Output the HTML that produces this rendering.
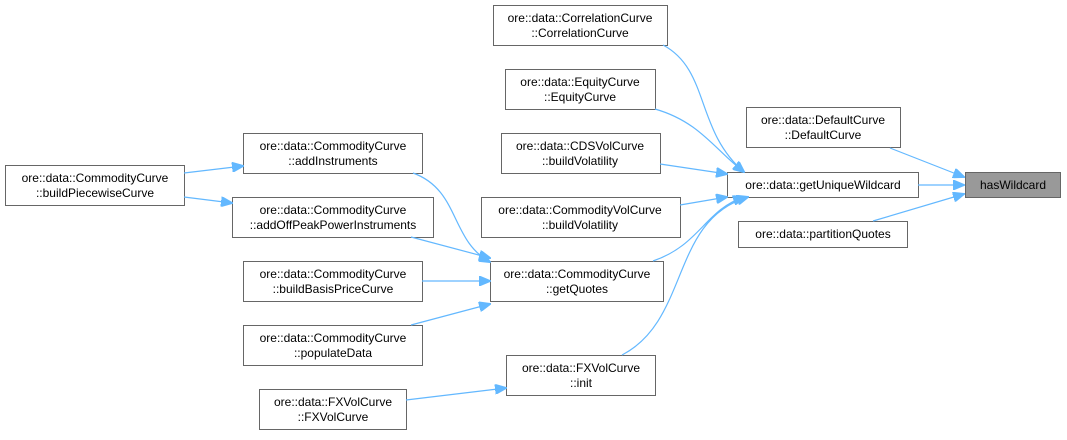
<!DOCTYPE html>
<html><head><meta charset="utf-8"><style>
body{margin:0;background:#fff}
text{font-family:"Liberation Sans",Arial,sans-serif;font-size:12px;fill:#000;text-anchor:middle}
rect{fill:#fff;stroke:#666;stroke-width:1}
path{fill:none;stroke:#63b8ff;stroke-width:1.2}
</style></head><body>
<svg width="1067" height="435" xmlns="http://www.w3.org/2000/svg">
<defs><marker id="a" markerWidth="12" markerHeight="10" refX="11" refY="5" orient="auto" markerUnits="userSpaceOnUse"><path d="M0,0 L12,5 L0,10 Z" style="fill:#63b8ff;stroke:#63b8ff"/></marker></defs>
<g>
<rect x="493.5" y="5.5" width="174" height="40"/><text x="580" y="22">ore::data::CorrelationCurve</text><text x="580" y="37">::CorrelationCurve</text>
<rect x="505.5" y="69.5" width="150" height="40"/><text x="580" y="86">ore::data::EquityCurve</text><text x="580" y="101">::EquityCurve</text>
<rect x="501.5" y="133.5" width="159" height="40"/><text x="580" y="150">ore::data::CDSVolCurve</text><text x="580" y="165">::buildVolatility</text>
<rect x="481.5" y="197.5" width="199" height="40"/><text x="580" y="214">ore::data::CommodityVolCurve</text><text x="580" y="229">::buildVolatility</text>
<rect x="490.5" y="261.5" width="173" height="40"/><text x="577" y="278">ore::data::CommodityCurve</text><text x="577" y="293">::getQuotes</text>
<rect x="506.5" y="355.5" width="149" height="40"/><text x="581" y="372">ore::data::FXVolCurve</text><text x="581" y="387">::init</text>
<rect x="746.5" y="107.5" width="154" height="40"/><text x="823" y="124">ore::data::DefaultCurve</text><text x="823" y="139">::DefaultCurve</text>
<rect x="727.5" y="172.5" width="191" height="25"/><text x="823" y="189">ore::data::getUniqueWildcard</text>
<rect x="738.5" y="221.5" width="169" height="26"/><text x="823" y="238">ore::data::partitionQuotes</text>
<rect x="965.5" y="172.5" width="95" height="25" style="fill:#999"/><text x="1013" y="189">hasWildcard</text>
<rect x="243.5" y="133.5" width="179" height="40"/><text x="333" y="150">ore::data::CommodityCurve</text><text x="333" y="165">::addInstruments</text>
<rect x="232.5" y="197.5" width="201" height="40"/><text x="333" y="214">ore::data::CommodityCurve</text><text x="333" y="229">::addOffPeakPowerInstruments</text>
<rect x="243.5" y="261.5" width="179" height="40"/><text x="333" y="278">ore::data::CommodityCurve</text><text x="333" y="293">::buildBasisPriceCurve</text>
<rect x="243.5" y="325.5" width="179" height="40"/><text x="333" y="342">ore::data::CommodityCurve</text><text x="333" y="357">::populateData</text>
<rect x="5.5" y="165.5" width="179" height="40"/><text x="95" y="182">ore::data::CommodityCurve</text><text x="95" y="197">::buildPiecewiseCurve</text>
<rect x="259.5" y="389.5" width="147" height="40"/><text x="333" y="406">ore::data::FXVolCurve</text><text x="333" y="421">::FXVolCurve</text>
</g>
<g>
<path d="M918,185 L964,185" marker-end="url(#a)"/>
<path d="M890,148 L964,177" marker-end="url(#a)"/>
<path d="M873,221 L964,194" marker-end="url(#a)"/>
<path d="M663,45 C710,70 695,130 744,172" marker-end="url(#a)"/>
<path d="M655,109 C700,122 715,150 744,172" marker-end="url(#a)"/>
<path d="M660,164 L727,174" marker-end="url(#a)"/>
<path d="M680,205 L727,197" marker-end="url(#a)"/>
<path d="M653,261 C700,245 705,210 744,197" marker-end="url(#a)"/>
<path d="M622,355 C690,320 670,220 748,197" marker-end="url(#a)"/>
<path d="M413,173 C460,190 450,240 490,262" marker-end="url(#a)"/>
<path d="M411,237 L490,258" marker-end="url(#a)"/>
<path d="M422,281 L490,281" marker-end="url(#a)"/>
<path d="M411,325 L490,304" marker-end="url(#a)"/>
<path d="M406,400 L506,388" marker-end="url(#a)"/>
<path d="M184,173 L243,166" marker-end="url(#a)"/>
<path d="M184,197 L232,203" marker-end="url(#a)"/>
</g>
</svg>
</body></html>
